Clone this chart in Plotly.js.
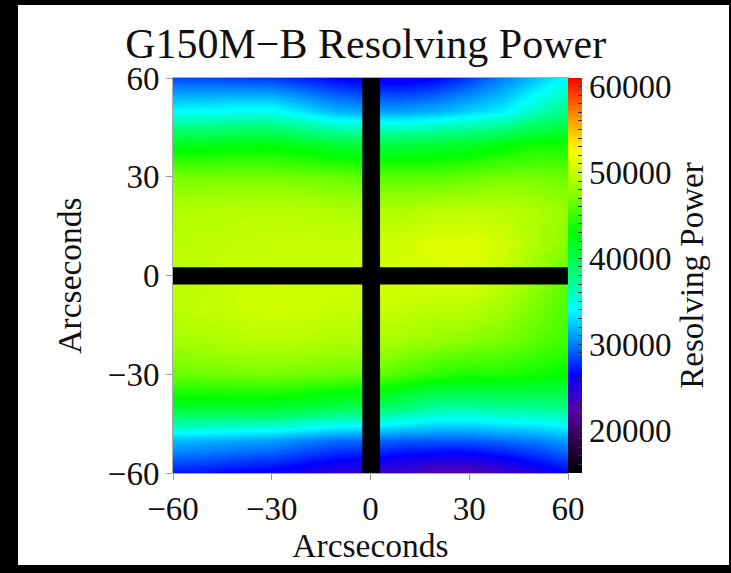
<!DOCTYPE html>
<html>
<head>
<meta charset="utf-8">
<script src="https://cdn.plot.ly/plotly-3.0.1.min.js"></script>
<style>
  html, body { margin:0; padding:0; background:#000; width:731px; height:573px; overflow:hidden; }
  #frame { position:absolute; left:18px; top:5px; width:711px; height:560px; background:#fff; }
  #plot { width:711px; height:560px; }
</style>
</head>
<body>
<div id="frame"><div id="plot"></div></div>
<script>
// Grid positions (arcseconds)
const xArc = [-60, -50, -40, -30, -20, -10, 0, 10, 20, 30, 40, 50, 60];
const yArc = [-60, -50, -40, -30, -20, -10, 0, 10, 20, 30, 40, 50, 60];

// Resolving power, one row per yArc value (bottom to top), columns follow xArc
const rowYm60 = [27000, 26800, 26300, 26000, 25200, 24500, 24000, 23500, 22500, 22500, 23500, 25000, 26500];
const rowYm50 = [32000, 31600, 31300, 31000, 30200, 29500, 29500, 29000, 29000, 29000, 29500, 30000, 31000];
const rowYm40 = [41500, 41500, 41500, 41500, 40800, 40000, 39500, 38500, 37000, 37000, 37500, 37500, 38000];
const rowYm30 = [46500, 46700, 46900, 47000, 46800, 46500, 46500, 45500, 44500, 44000, 44000, 43500, 43000];
const rowYm20 = [48500, 48800, 49200, 49500, 49300, 49000, 49000, 48500, 48000, 47500, 47000, 46000, 45000];
const rowYm10 = [49500, 49900, 50200, 50500, 50300, 50000, 50200, 50000, 49500, 49500, 48500, 47000, 45500];
const rowY0   = [49500, 49800, 50100, 50300, 50300, 50300, 50500, 50500, 51000, 51000, 50000, 48000, 46000];
const rowY10  = [49500, 49700, 49900, 50000, 50000, 50000, 50200, 50500, 51000, 51200, 50500, 49000, 47500];
const rowY20  = [49000, 49200, 49400, 49500, 49300, 49000, 49000, 49000, 49500, 49500, 49500, 49000, 48000];
const rowY30  = [47000, 47000, 47000, 47000, 46800, 46500, 46000, 46000, 46000, 46500, 47000, 47000, 46500];
const rowY40  = [42000, 42200, 42400, 42500, 41800, 41000, 40500, 40500, 41000, 41500, 42500, 43500, 43500];
const rowY50  = [34000, 34200, 34400, 34500, 33000, 31500, 31000, 31000, 31500, 32500, 33500, 36000, 38000];
const rowY60  = [28500, 28400, 28200, 28000, 27300, 26500, 26000, 25800, 26500, 28000, 30000, 32000, 34500];

// Detector gaps (arcseconds), drawn in black
const gapX = [-2.5, 2.9];
const gapY = [-2.7, 2.5];

// Axis ticks
const axisTicks = [-60, -30, 0, 30, 60];
const cbMajor = [20000, 30000, 40000, 50000, 60000];
const zRange = [15000, 61000];

const zGrid = [rowYm60, rowYm50, rowYm40, rowYm30, rowYm20, rowYm10, rowY0,
               rowY10, rowY20, rowY30, rowY40, rowY50, rowY60];

// Colorbar tick marks every 1000, labels only on majors
const cbTickVals = [], cbTickText = [];
for (let v = 16000; v <= 60000; v += 1000) {
  cbTickVals.push(v);
  cbTickText.push(cbMajor.includes(v) ? String(v) : '');
}

const rainbow = [
  [0.000, 'rgb(0,0,0)'],
  [0.076, 'rgb(45,0,70)'],
  [0.161, 'rgb(90,0,170)'],
  [0.250, 'rgb(0,0,255)'],
  [0.326, 'rgb(0,128,255)'],
  [0.413, 'rgb(0,255,255)'],
  [0.500, 'rgb(0,255,128)'],
  [0.609, 'rgb(0,255,0)'],
  [0.717, 'rgb(150,255,0)'],
  [0.815, 'rgb(255,255,0)'],
  [0.898, 'rgb(255,150,0)'],
  [1.000, 'rgb(255,0,0)']
];

const serif = 'Liberation Serif, Times New Roman, serif';

const trace = {
  type: 'heatmap',
  x: xArc, y: yArc, z: zGrid,
  zsmooth: 'best',
  zmin: zRange[0], zmax: zRange[1],
  colorscale: rainbow,
  hoverinfo: 'skip',
  colorbar: {
    x: 1, xref: 'paper', xanchor: 'left', xpad: 0,
    y: 0.5, yanchor: 'middle', len: 1, lenmode: 'fraction', ypad: 0,
    thickness: 14,
    outlinewidth: 0,
    tickmode: 'array', tickvals: cbTickVals, ticktext: cbTickText,
    ticks: 'inside', ticklen: 4, tickcolor: '#333', tickwidth: 1,
    tickfont: {family: serif, size: 33, color: '#111'},
    title: {text: 'Resolving Power', side: 'right', font: {family: serif, size: 33, color: '#111'}}
  }
};

function gapShape(x0, x1, y0, y1) {
  return {type: 'rect', xref: 'x', yref: 'y', x0: x0, x1: x1, y0: y0, y1: y1,
          fillcolor: '#000', line: {width: 0}, layer: 'above'};
}

const layout = {
  width: 711, height: 560,
  margin: {l: 155, r: 161, t: 73, b: 92},
  paper_bgcolor: '#fff', plot_bgcolor: '#fff',
  title: {text: 'G150M\u2212B Resolving Power', x: 0.489, xref: 'container', xanchor: 'center',
          y: 0.905, yref: 'container', yanchor: 'bottom',
          font: {family: serif, size: 42, color: '#111'}},
  xaxis: {
    range: [xArc[0], xArc[xArc.length - 1]], tickmode: 'array', tickvals: axisTicks,
    ticks: 'outside', ticklen: 6, tickcolor: '#999', tickwidth: 1,
    showline: true, linecolor: '#aaa', linewidth: 1, mirror: true,
    showgrid: false, zeroline: false,
    tickfont: {family: serif, size: 33, color: '#111'},
    title: {text: 'Arcseconds', standoff: 6, font: {family: serif, size: 33.5, color: '#111'}}
  },
  yaxis: {
    range: [yArc[0], yArc[yArc.length - 1]], tickmode: 'array', tickvals: axisTicks,
    ticks: 'outside', ticklen: 6, tickcolor: '#999', tickwidth: 1,
    showline: true, linecolor: '#aaa', linewidth: 1, mirror: true,
    showgrid: false, zeroline: false,
    tickfont: {family: serif, size: 33, color: '#111'},
    title: {text: 'Arcseconds', standoff: 16, font: {family: serif, size: 33.5, color: '#111'}}
  },
  shapes: [
    gapShape(gapX[0], gapX[1], yArc[0], yArc[yArc.length - 1]),
    gapShape(xArc[0], xArc[xArc.length - 1], gapY[0], gapY[1])
  ]
};

Plotly.newPlot('plot', [trace], layout, {displayModeBar: false, staticPlot: true});
</script>
</body>
</html>
